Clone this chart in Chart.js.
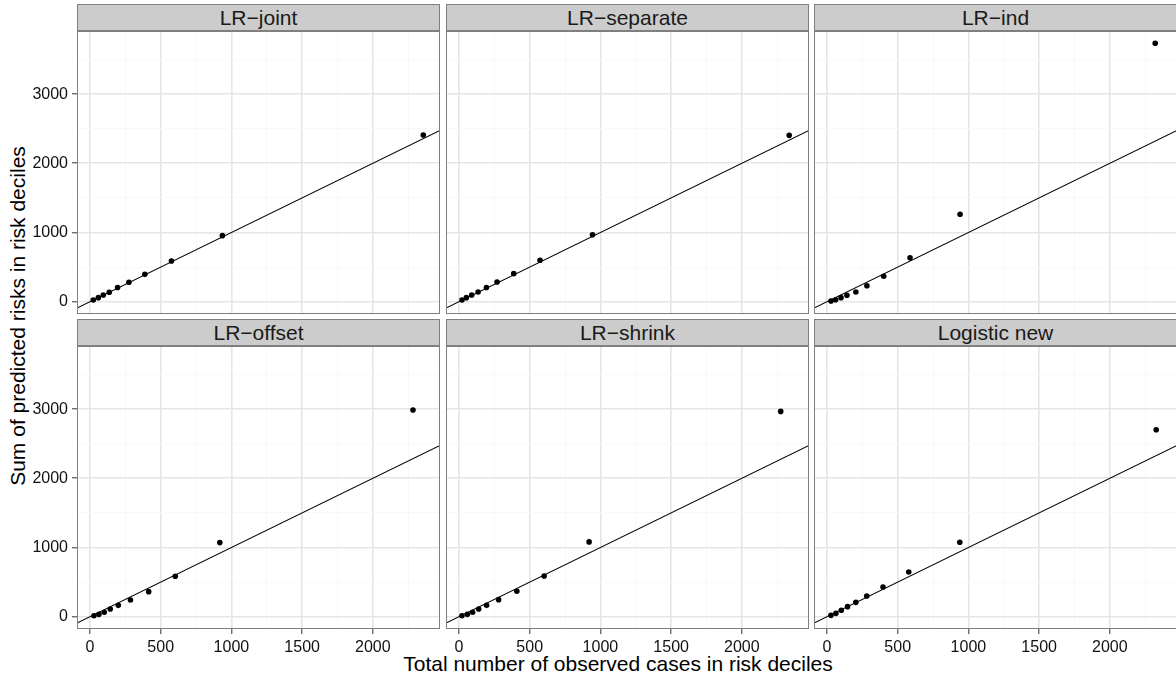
<!DOCTYPE html>
<html lang="en">
<head>
<meta charset="UTF-8">
<title>Observed vs predicted by risk decile</title>
<script src="https://cdn.jsdelivr.net/npm/chart.js@4"></script>
<style>
    body {
        margin: 0;
        background: #fff;
        font-family: 'Liberation Sans', Arial, sans-serif;
    }
    #wrap {
        position: relative;
        width: 1176px;
        height: 680px;
        overflow: hidden;
    }
    canvas { position: absolute; }
    .strip {
        position: absolute;
        background: #cccccc;
        border: 1px solid #7f7f7f;
        box-sizing: border-box;
        text-align: center;
        font-size: 21px;
        color: #1a1a1a;
    }
    .ytitle {
        position: absolute;
        left: 18px;
        top: 316px;
        transform: translate(-50%, -50%) rotate(-90deg);
        white-space: nowrap;
        font-size: 21px;
    }
    .xtitle {
        position: absolute;
        left: 618px;
        top: 664px;
        transform: translate(-50%, -50%);
        white-space: nowrap;
        font-size: 21px;
    }
</style>
</head>
<body>
<div id="wrap">
    <div class="ytitle">Sum of predicted risks in risk deciles</div>
    <div class="xtitle">Total number of observed cases in risk deciles</div>
</div>
<script>
// facet names
const panelNames = ['LR\u2212joint', 'LR\u2212separate', 'LR\u2212ind', 'LR\u2212offset', 'LR\u2212shrink', 'Logistic new'];

// observed cases (x) and predicted risk sums (y) per decile
const obsJoint  = [23, 59, 94, 136, 195, 275, 388, 576, 936, 2357];
const predJoint = [25, 58, 97, 136, 204, 280, 395, 588, 954, 2409];

const obsSeparate  = [21, 52, 90, 135, 194, 269, 387, 573, 944, 2335];
const predSeparate = [25, 58, 97, 140, 204, 285, 405, 598, 968, 2404];

const obsInd  = [28, 61, 99, 141, 204, 282, 401, 587, 941, 2321];
const predInd = [10, 29, 58, 92, 140, 231, 367, 636, 1263, 3734];

const obsOffset  = [28, 63, 101, 143, 200, 286, 415, 603, 918, 2284];
const predOffset = [14, 34, 63, 111, 164, 241, 362, 584, 1071, 2986];

const obsShrink  = [21, 59, 96, 139, 195, 280, 409, 602, 920, 2275];
const predShrink = [14, 34, 63, 111, 164, 246, 367, 589, 1081, 2967];

const obsLogistic  = [28, 63, 101, 145, 204, 281, 396, 578, 939, 2328];
const predLogistic = [19, 48, 92, 145, 207, 299, 429, 646, 1076, 2701];

const obsList = [obsJoint, obsSeparate, obsInd, obsOffset, obsShrink, obsLogistic];
const predList = [predJoint, predSeparate, predInd, predOffset, predShrink, predLogistic];

// axis breaks
const xMajor = [0, 500, 1000, 1500, 2000];
const xMinor = [250, 750, 1250, 1750, 2250];
const yMajor = [0, 1000, 2000, 3000];
const yMinor = [500, 1500, 2500, 3500];
const xRange = [-92, 2475];
const yRange = [-178, 3912];

// layout (px)
const colLeft = [77, 446, 814];
const rowTop = [31, 346];
const W = 363, H = 283, SH = 27;
const YAX = 50, XAX = 30;

const wrap = document.getElementById('wrap');

const borderPlugin = {
    id: 'panelBorder',
    afterDraw(chart) {
        const a = chart.chartArea;
        const c = chart.ctx;
        c.save();
        c.strokeStyle = '#7f7f7f';
        c.lineWidth = 1;
        c.strokeRect(a.left + 0.5, a.top + 0.5, a.right - a.left - 1, a.bottom - a.top - 1);
        c.restore();
    }
};

function gridOpts(major, showTicks) {
    return {
        color: ctx => major.includes(ctx.tick.value) ? '#e5e5e5' : '#f6f6f6',
        lineWidth: ctx => major.includes(ctx.tick.value) ? 1.6 : 0.8,
        drawTicks: showTicks,
        tickLength: 5,
        tickWidth: 1,
        tickColor: ctx => major.includes(ctx.tick.value) ? '#333' : 'rgba(0,0,0,0)'
    };
}

function fixSize(s, prop, size) {
    s[prop] = size;
    s.paddingTop = 0;
    s.paddingBottom = 0;
    s.paddingLeft = 0;
    s.paddingRight = 0;
}

panelNames.forEach((name, i) => {
    const col = i % 3, row = Math.floor(i / 3);
    const isLeft = col === 0, isBottom = row === 1;

    const strip = document.createElement('div');
    strip.className = 'strip';
    strip.textContent = name;
    strip.style.left = colLeft[col] + 'px';
    strip.style.top = (rowTop[row] - SH) + 'px';
    strip.style.width = W + 'px';
    strip.style.height = SH + 'px';
    strip.style.lineHeight = (SH - 2) + 'px';
    wrap.appendChild(strip);

    const cv = document.createElement('canvas');
    cv.width = W + (isLeft ? YAX : 0);
    cv.height = H + (isBottom ? XAX : 0);
    cv.style.left = (colLeft[col] - (isLeft ? YAX : 0)) + 'px';
    cv.style.top = rowTop[row] + 'px';
    wrap.appendChild(cv);

    const pts = obsList[i].map((x, k) => ({ x: x, y: predList[i][k] }));

    new Chart(cv, {
        data: {
            datasets: [
                {
                    type: 'line',
                    data: [{ x: xRange[0], y: xRange[0] }, { x: xRange[1], y: xRange[1] }],
                    borderColor: '#000',
                    borderWidth: 1.2,
                    pointRadius: 0
                },
                {
                    type: 'scatter',
                    data: pts,
                    backgroundColor: '#000',
                    borderColor: '#000',
                    pointRadius: 2.8,
                    pointBorderWidth: 0
                }
            ]
        },
        options: {
            responsive: false,
            animation: false,
            events: [],
            layout: { padding: 0, autoPadding: false },
            plugins: { legend: { display: false }, tooltip: { enabled: false } },
            scales: {
                x: {
                    type: 'linear',
                    min: xRange[0],
                    max: xRange[1],
                    afterBuildTicks: s => { s.ticks = xMajor.concat(xMinor).sort((a, b) => a - b).map(v => ({ value: v })); },
                    afterFit: s => fixSize(s, 'height', isBottom ? XAX : 0),
                    border: { display: false },
                    grid: gridOpts(xMajor, isBottom),
                    ticks: {
                        display: isBottom,
                        autoSkip: false,
                        maxRotation: 0,
                        padding: 4,
                        color: '#111',
                        font: { family: "'Liberation Sans', Arial, sans-serif", size: 16 },
                        callback: v => xMajor.includes(v) ? String(v) : ''
                    }
                },
                y: {
                    type: 'linear',
                    min: yRange[0],
                    max: yRange[1],
                    afterBuildTicks: s => { s.ticks = yMajor.concat(yMinor).sort((a, b) => a - b).map(v => ({ value: v })); },
                    afterFit: s => fixSize(s, 'width', isLeft ? YAX : 0),
                    border: { display: false },
                    grid: gridOpts(yMajor, isLeft),
                    ticks: {
                        display: isLeft,
                        autoSkip: false,
                        padding: 4,
                        color: '#111',
                        font: { family: "'Liberation Sans', Arial, sans-serif", size: 16 },
                        callback: v => yMajor.includes(v) ? String(v) : ''
                    }
                }
            }
        },
        plugins: [borderPlugin]
    });
});
</script>
</body>
</html>
